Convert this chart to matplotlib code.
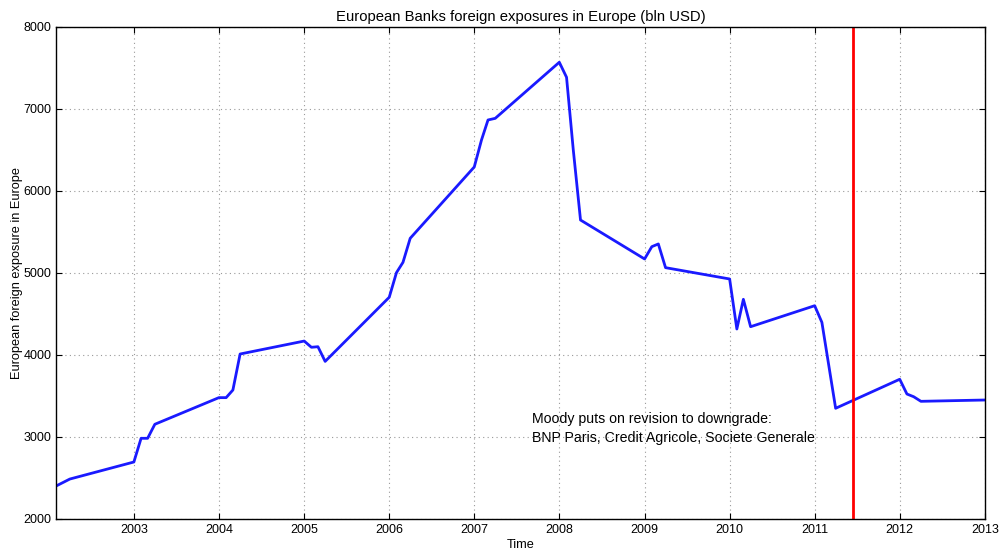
import matplotlib
matplotlib.use("Agg")
import matplotlib.pyplot as plt
import matplotlib.dates as mdates
from datetime import datetime

plt.rcParams['font.family'] = ['Liberation Sans', 'DejaVu Sans']

dates = ["2002-02", "2002-04",
         "2003-01", "2003-02", "2003-03", "2003-04",
         "2004-01", "2004-02", "2004-03", "2004-04",
         "2005-01", "2005-02", "2005-03", "2005-04",
         "2006-01", "2006-02", "2006-03", "2006-04",
         "2007-01", "2007-02", "2007-03", "2007-04",
         "2008-01", "2008-02", "2008-03", "2008-04",
         "2009-01", "2009-02", "2009-03", "2009-04",
         "2010-01", "2010-02", "2010-03", "2010-04",
         "2011-01", "2011-02", "2011-04",
         "2012-01", "2012-02", "2012-03", "2012-04",
         "2013-01"]
exposure = [2402, 2487,
            2695, 2984, 2984, 3155,
            3480, 3480, 3573, 4012,
            4170, 4094, 4101, 3922,
            4704, 5004, 5130, 5423,
            6293, 6622, 6866, 6886,
            7570, 7387, 6500, 5646,
            5171, 5321, 5354, 5065,
            4927, 4317, 4679, 4345,
            4601, 4398, 3350,
            3704, 3524, 3491, 3435,
            3451]
event_date = "2011-06-15"
annotation = "Moody puts on revision to downgrade:\nBNP Paris, Credit Agricole, Societe Generale"

x = [datetime.strptime(d, "%Y-%m") for d in dates]

fig = plt.figure(figsize=(10.01, 5.52), dpi=100)
ax = fig.add_axes([0.056, 0.0598, 0.928, 0.8913])
ax.plot(x, exposure, color=(0.1, 0.1, 1.0), lw=2)
ax.axvline(datetime.strptime(event_date, "%Y-%m-%d"), color='red', lw=2)
ax.text(datetime(2007, 9, 7), 2945, annotation, fontsize=10.2, va='baseline',
        ha='left', linespacing=1.45)

ax.set_xlim(x[0], x[-1])
ax.set_ylim(2000, 8000)
ax.xaxis.set_major_locator(mdates.YearLocator())
ax.xaxis.set_major_formatter(mdates.DateFormatter('%Y'))
ax.set_yticks(range(2000, 8001, 1000))
ax.grid(True, color='#999999', linestyle=(0, (1, 3)), lw=0.8)
ax.tick_params(direction='in', top=True, right=True, labelsize=9, length=4)
for s in ax.spines.values():
    s.set_linewidth(1.0)
ax.set_title("European Banks foreign exposures in Europe (bln USD)", fontsize=10.7, pad=4)
ax.set_xlabel("Time", fontsize=9.2, labelpad=2)
ax.set_ylabel("European foreign exposure in Europe", fontsize=9.2, labelpad=0.5)

fig.savefig("out.png", dpi=100)
